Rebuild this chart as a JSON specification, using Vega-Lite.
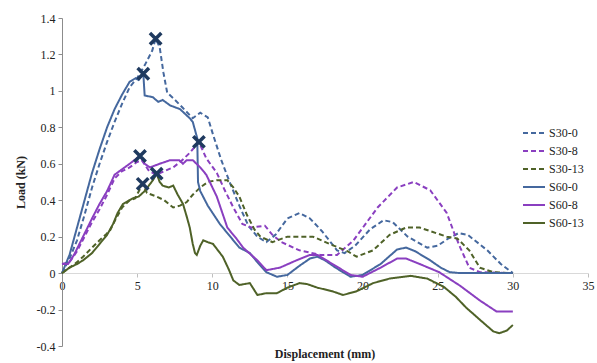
{
"$schema": "https://vega.github.io/schema/vega-lite/v6.json",
"width": 526, "height": 328,
"autosize": {"type": "none"},
"padding": {"left": 62, "top": 18, "right": 9, "bottom": 17},
"background": "white",
"config": {"font": "Liberation Serif", "view": {"stroke": null},
  "axis": {"labelFont": "Liberation Serif", "titleFont": "Liberation Serif", "labelFontSize": 12, "labelColor": "#222222", "grid": false, "labelOverlap": false},
  "axisY": {"labelOverlap": false, "tickCount": 10},
  "legend": {"labelFont": "Liberation Serif", "labelFontSize": 12}},
"title": {"text": "Displacement (mm)", "orient": "bottom", "anchor": "middle", "fontSize": 12, "fontWeight": "bold", "font": "Liberation Serif", "offset": -3, "color": "#222222"},
"datasets": {
"curves": [
{"s":"S30-0","x":0,"y":0},{"s":"S30-0","x":0.5,"y":0.08},{"s":"S30-0","x":1,"y":0.18},{"s":"S30-0","x":1.5,"y":0.32},{"s":"S30-0","x":2,"y":0.47},{"s":"S30-0","x":2.5,"y":0.6},{"s":"S30-0","x":3,"y":0.72},{"s":"S30-0","x":3.5,"y":0.83},{"s":"S30-0","x":4,"y":0.93},{"s":"S30-0","x":4.5,"y":1.02},{"s":"S30-0","x":5,"y":1.07},{"s":"S30-0","x":5.5,"y":1.14},{"s":"S30-0","x":6,"y":1.22},{"s":"S30-0","x":6.23,"y":1.286},{"s":"S30-0","x":6.5,"y":1.24},{"s":"S30-0","x":6.75,"y":1.1},{"s":"S30-0","x":7,"y":0.99},{"s":"S30-0","x":7.4,"y":0.96},{"s":"S30-0","x":8,"y":0.91},{"s":"S30-0","x":8.7,"y":0.85},{"s":"S30-0","x":9.2,"y":0.88},{"s":"S30-0","x":9.7,"y":0.855},{"s":"S30-0","x":10.05,"y":0.76},{"s":"S30-0","x":10.6,"y":0.62},{"s":"S30-0","x":11.2,"y":0.49},{"s":"S30-0","x":11.8,"y":0.37},{"s":"S30-0","x":12.4,"y":0.26},{"s":"S30-0","x":13,"y":0.2},{"s":"S30-0","x":13.6,"y":0.17},{"s":"S30-0","x":14.2,"y":0.21},{"s":"S30-0","x":15,"y":0.3},{"s":"S30-0","x":15.8,"y":0.33},{"s":"S30-0","x":16.5,"y":0.3},{"s":"S30-0","x":17.3,"y":0.23},{"s":"S30-0","x":18.3,"y":0.125},{"s":"S30-0","x":18.8,"y":0.11},{"s":"S30-0","x":19.5,"y":0.15},{"s":"S30-0","x":20.5,"y":0.24},{"s":"S30-0","x":21.4,"y":0.29},{"s":"S30-0","x":22,"y":0.28},{"s":"S30-0","x":23,"y":0.2},{"s":"S30-0","x":24.3,"y":0.14},{"s":"S30-0","x":25,"y":0.15},{"s":"S30-0","x":25.7,"y":0.19},{"s":"S30-0","x":26.4,"y":0.22},{"s":"S30-0","x":27,"y":0.21},{"s":"S30-0","x":28.3,"y":0.125},{"s":"S30-0","x":29.2,"y":0.05},{"s":"S30-0","x":30,"y":0},
{"s":"S30-8","x":0,"y":0.05},{"s":"S30-8","x":0.5,"y":0.06},{"s":"S30-8","x":1,"y":0.12},{"s":"S30-8","x":1.5,"y":0.2},{"s":"S30-8","x":2,"y":0.28},{"s":"S30-8","x":2.5,"y":0.35},{"s":"S30-8","x":3,"y":0.43},{"s":"S30-8","x":3.5,"y":0.52},{"s":"S30-8","x":4,"y":0.56},{"s":"S30-8","x":4.5,"y":0.58},{"s":"S30-8","x":5,"y":0.61},{"s":"S30-8","x":5.3,"y":0.62},{"s":"S30-8","x":5.8,"y":0.56},{"s":"S30-8","x":6.3,"y":0.54},{"s":"S30-8","x":6.8,"y":0.56},{"s":"S30-8","x":7.4,"y":0.58},{"s":"S30-8","x":8,"y":0.62},{"s":"S30-8","x":8.5,"y":0.66},{"s":"S30-8","x":9.11,"y":0.72},{"s":"S30-8","x":9.6,"y":0.63},{"s":"S30-8","x":10.3,"y":0.55},{"s":"S30-8","x":10.8,"y":0.46},{"s":"S30-8","x":11.4,"y":0.36},{"s":"S30-8","x":12,"y":0.27},{"s":"S30-8","x":12.6,"y":0.25},{"s":"S30-8","x":13.5,"y":0.26},{"s":"S30-8","x":14,"y":0.21},{"s":"S30-8","x":14.6,"y":0.17},{"s":"S30-8","x":15.8,"y":0.125},{"s":"S30-8","x":17.2,"y":0.1},{"s":"S30-8","x":18.3,"y":0.1},{"s":"S30-8","x":19.4,"y":0.18},{"s":"S30-8","x":20.2,"y":0.27},{"s":"S30-8","x":21,"y":0.36},{"s":"S30-8","x":22.3,"y":0.47},{"s":"S30-8","x":23.4,"y":0.5},{"s":"S30-8","x":24.5,"y":0.455},{"s":"S30-8","x":25.6,"y":0.33},{"s":"S30-8","x":26.1,"y":0.22},{"s":"S30-8","x":26.5,"y":0.14},{"s":"S30-8","x":27.1,"y":0.03},{"s":"S30-8","x":27.8,"y":0.005},{"s":"S30-8","x":30,"y":0},
{"s":"S30-13","x":0,"y":0},{"s":"S30-13","x":0.5,"y":0.03},{"s":"S30-13","x":1,"y":0.06},{"s":"S30-13","x":1.4,"y":0.09},{"s":"S30-13","x":2,"y":0.14},{"s":"S30-13","x":2.5,"y":0.18},{"s":"S30-13","x":2.9,"y":0.21},{"s":"S30-13","x":3.2,"y":0.235},{"s":"S30-13","x":3.6,"y":0.3},{"s":"S30-13","x":4,"y":0.36},{"s":"S30-13","x":4.5,"y":0.4},{"s":"S30-13","x":4.86,"y":0.41},{"s":"S30-13","x":5.37,"y":0.49},{"s":"S30-13","x":5.65,"y":0.44},{"s":"S30-13","x":6.3,"y":0.42},{"s":"S30-13","x":6.8,"y":0.4},{"s":"S30-13","x":7.4,"y":0.36},{"s":"S30-13","x":7.85,"y":0.37},{"s":"S30-13","x":8.3,"y":0.39},{"s":"S30-13","x":8.7,"y":0.43},{"s":"S30-13","x":9.2,"y":0.47},{"s":"S30-13","x":9.7,"y":0.5},{"s":"S30-13","x":10.3,"y":0.51},{"s":"S30-13","x":11,"y":0.51},{"s":"S30-13","x":11.4,"y":0.47},{"s":"S30-13","x":11.8,"y":0.42},{"s":"S30-13","x":12.3,"y":0.32},{"s":"S30-13","x":12.8,"y":0.24},{"s":"S30-13","x":13.2,"y":0.2},{"s":"S30-13","x":14,"y":0.17},{"s":"S30-13","x":15,"y":0.2},{"s":"S30-13","x":16,"y":0.2},{"s":"S30-13","x":16.7,"y":0.2},{"s":"S30-13","x":17.8,"y":0.16},{"s":"S30-13","x":19,"y":0.12},{"s":"S30-13","x":19.6,"y":0.09},{"s":"S30-13","x":20.7,"y":0.125},{"s":"S30-13","x":21.8,"y":0.21},{"s":"S30-13","x":22.9,"y":0.25},{"s":"S30-13","x":23.8,"y":0.25},{"s":"S30-13","x":25.6,"y":0.2},{"s":"S30-13","x":26.3,"y":0.19},{"s":"S30-13","x":27.1,"y":0.125},{"s":"S30-13","x":27.8,"y":0.03},{"s":"S30-13","x":28.7,"y":0.005},{"s":"S30-13","x":30,"y":0},
{"s":"S60-0","x":0,"y":0},{"s":"S60-0","x":0.5,"y":0.1},{"s":"S60-0","x":1,"y":0.25},{"s":"S60-0","x":1.5,"y":0.4},{"s":"S60-0","x":2,"y":0.55},{"s":"S60-0","x":2.5,"y":0.68},{"s":"S60-0","x":3,"y":0.8},{"s":"S60-0","x":3.5,"y":0.9},{"s":"S60-0","x":4,"y":0.98},{"s":"S60-0","x":4.5,"y":1.05},{"s":"S60-0","x":4.9,"y":1.07},{"s":"S60-0","x":5.1,"y":1.06},{"s":"S60-0","x":5.41,"y":1.094},{"s":"S60-0","x":5.5,"y":0.975},{"s":"S60-0","x":6.05,"y":0.965},{"s":"S60-0","x":6.4,"y":0.94},{"s":"S60-0","x":6.7,"y":0.95},{"s":"S60-0","x":7.2,"y":0.92},{"s":"S60-0","x":7.85,"y":0.9},{"s":"S60-0","x":8.5,"y":0.85},{"s":"S60-0","x":8.7,"y":0.83},{"s":"S60-0","x":9,"y":0.74},{"s":"S60-0","x":9.05,"y":0.5},{"s":"S60-0","x":9.2,"y":0.45},{"s":"S60-0","x":9.7,"y":0.37},{"s":"S60-0","x":10.5,"y":0.27},{"s":"S60-0","x":11.2,"y":0.2},{"s":"S60-0","x":11.8,"y":0.14},{"s":"S60-0","x":12.5,"y":0.11},{"s":"S60-0","x":13,"y":0.06},{"s":"S60-0","x":13.6,"y":0.005},{"s":"S60-0","x":14.3,"y":-0.02},{"s":"S60-0","x":15,"y":-0.01},{"s":"S60-0","x":15.8,"y":0.04},{"s":"S60-0","x":16.5,"y":0.08},{"s":"S60-0","x":17,"y":0.09},{"s":"S60-0","x":17.5,"y":0.07},{"s":"S60-0","x":18.2,"y":0.03},{"s":"S60-0","x":19.2,"y":-0.02},{"s":"S60-0","x":20,"y":-0.01},{"s":"S60-0","x":21.2,"y":0.05},{"s":"S60-0","x":22.3,"y":0.13},{"s":"S60-0","x":22.9,"y":0.14},{"s":"S60-0","x":23.5,"y":0.12},{"s":"S60-0","x":24.5,"y":0.07},{"s":"S60-0","x":25.2,"y":0.03},{"s":"S60-0","x":25.8,"y":0.005},{"s":"S60-0","x":26.5,"y":0},{"s":"S60-0","x":30,"y":0},
{"s":"S60-8","x":0,"y":0.05},{"s":"S60-8","x":0.4,"y":0.05},{"s":"S60-8","x":0.8,"y":0.1},{"s":"S60-8","x":1.4,"y":0.2},{"s":"S60-8","x":2,"y":0.3},{"s":"S60-8","x":2.5,"y":0.38},{"s":"S60-8","x":3,"y":0.45},{"s":"S60-8","x":3.5,"y":0.54},{"s":"S60-8","x":4,"y":0.57},{"s":"S60-8","x":4.5,"y":0.6},{"s":"S60-8","x":5.19,"y":0.643},{"s":"S60-8","x":5.5,"y":0.6},{"s":"S60-8","x":5.85,"y":0.58},{"s":"S60-8","x":6.5,"y":0.6},{"s":"S60-8","x":7.2,"y":0.62},{"s":"S60-8","x":7.8,"y":0.62},{"s":"S60-8","x":8.05,"y":0.6},{"s":"S60-8","x":8.3,"y":0.62},{"s":"S60-8","x":8.7,"y":0.62},{"s":"S60-8","x":9.2,"y":0.58},{"s":"S60-8","x":9.6,"y":0.54},{"s":"S60-8","x":10.3,"y":0.42},{"s":"S60-8","x":11,"y":0.25},{"s":"S60-8","x":11.6,"y":0.19},{"s":"S60-8","x":12.05,"y":0.14},{"s":"S60-8","x":13,"y":0.07},{"s":"S60-8","x":13.6,"y":0.016},{"s":"S60-8","x":14.5,"y":0.03},{"s":"S60-8","x":15.6,"y":0.07},{"s":"S60-8","x":16.5,"y":0.1},{"s":"S60-8","x":17,"y":0.1},{"s":"S60-8","x":18,"y":0.05},{"s":"S60-8","x":19.2,"y":-0.01},{"s":"S60-8","x":20,"y":-0.02},{"s":"S60-8","x":21.2,"y":0.03},{"s":"S60-8","x":22.3,"y":0.08},{"s":"S60-8","x":22.9,"y":0.08},{"s":"S60-8","x":23.8,"y":0.05},{"s":"S60-8","x":25.1,"y":0.005},{"s":"S60-8","x":26.5,"y":-0.07},{"s":"S60-8","x":27.8,"y":-0.15},{"s":"S60-8","x":28.9,"y":-0.21},{"s":"S60-8","x":30,"y":-0.21},
{"s":"S60-13","x":0,"y":0},{"s":"S60-13","x":0.5,"y":0.03},{"s":"S60-13","x":1,"y":0.05},{"s":"S60-13","x":1.4,"y":0.07},{"s":"S60-13","x":2,"y":0.11},{"s":"S60-13","x":2.5,"y":0.16},{"s":"S60-13","x":3,"y":0.21},{"s":"S60-13","x":3.4,"y":0.27},{"s":"S60-13","x":3.7,"y":0.33},{"s":"S60-13","x":4.06,"y":0.38},{"s":"S60-13","x":4.7,"y":0.41},{"s":"S60-13","x":5.1,"y":0.42},{"s":"S60-13","x":5.5,"y":0.45},{"s":"S60-13","x":6.05,"y":0.51},{"s":"S60-13","x":6.3,"y":0.546},{"s":"S60-13","x":6.5,"y":0.5},{"s":"S60-13","x":6.7,"y":0.48},{"s":"S60-13","x":7.1,"y":0.47},{"s":"S60-13","x":7.4,"y":0.48},{"s":"S60-13","x":7.7,"y":0.43},{"s":"S60-13","x":8.05,"y":0.38},{"s":"S60-13","x":8.3,"y":0.31},{"s":"S60-13","x":8.5,"y":0.25},{"s":"S60-13","x":8.7,"y":0.16},{"s":"S60-13","x":8.85,"y":0.11},{"s":"S60-13","x":8.97,"y":0.1},{"s":"S60-13","x":9.2,"y":0.15},{"s":"S60-13","x":9.4,"y":0.18},{"s":"S60-13","x":9.7,"y":0.17},{"s":"S60-13","x":10.05,"y":0.16},{"s":"S60-13","x":10.7,"y":0.09},{"s":"S60-13","x":11.1,"y":0.02},{"s":"S60-13","x":11.4,"y":-0.04},{"s":"S60-13","x":11.8,"y":-0.065},{"s":"S60-13","x":12.5,"y":-0.055},{"s":"S60-13","x":13,"y":-0.12},{"s":"S60-13","x":13.6,"y":-0.11},{"s":"S60-13","x":14.3,"y":-0.11},{"s":"S60-13","x":15,"y":-0.08},{"s":"S60-13","x":15.8,"y":-0.055},{"s":"S60-13","x":16.3,"y":-0.06},{"s":"S60-13","x":17,"y":-0.08},{"s":"S60-13","x":18,"y":-0.1},{"s":"S60-13","x":18.7,"y":-0.12},{"s":"S60-13","x":19.6,"y":-0.1},{"s":"S60-13","x":20.7,"y":-0.055},{"s":"S60-13","x":21.8,"y":-0.03},{"s":"S60-13","x":23.2,"y":-0.015},{"s":"S60-13","x":24.3,"y":-0.03},{"s":"S60-13","x":25.4,"y":-0.075},{"s":"S60-13","x":26.2,"y":-0.13},{"s":"S60-13","x":26.9,"y":-0.19},{"s":"S60-13","x":28,"y":-0.27},{"s":"S60-13","x":28.7,"y":-0.32},{"s":"S60-13","x":29.1,"y":-0.33},{"s":"S60-13","x":29.6,"y":-0.315},{"s":"S60-13","x":30,"y":-0.285}
],
"peaks": [
{"x":6.23,"y":1.286},{"x":5.41,"y":1.094},{"x":9.11,"y":0.72},{"x":5.19,"y":0.643},{"x":6.3,"y":0.546},{"x":5.37,"y":0.49}
]
},
"encoding": {
  "x": {"field": "x", "type": "quantitative", "scale": {"domain": [0, 35], "nice": false},
    "axis": {"title": null, "values": [0,5,10,15,20,25,30,35], "offset": -73, "domainColor": "#d9d9d9", "tickColor": "#bfbfbf", "tickSize": 4, "labelPadding": 3, "labelFlush": false, "labelOverlap": false}},
  "y": {"field": "y", "type": "quantitative", "scale": {"domain": [-0.4, 1.4], "nice": false, "zero": false},
    "axis": {"title": "Load (kN)", "titleFontWeight": "bold", "titleFontSize": 12, "titleColor": "#222222", "titlePadding": 9, "values": [-0.4,-0.2,0,0.2,0.4,0.6,0.8,1,1.2,1.4], "labelExpr": "replace(format(datum.value,'~g'),'\u2212','-')", "labelOverlap": false, "labelFlush": false, "labelBound": false, "labelFontSize": 12, "domainColor": "#8c8c8c", "tickColor": "#8c8c8c", "tickSize": 4, "labelPadding": 3}}
},
"layer": [
{
"data": {"name": "curves"},
"mark": {"type": "line", "strokeWidth": 2},
"encoding": {
  "color": {"field": "s", "type": "nominal",
    "scale": {"domain": ["S30-0","S30-8","S30-13","S60-0","S60-8","S60-13"], "range": ["#45689e","#8a3fc0","#4f6228","#45689e","#8a3fc0","#4f6228"]},
    "legend": {"title": null, "orient": "none", "legendX": 460, "legendY": 103, "symbolType": "stroke", "symbolSize": 484, "symbolStrokeWidth": 2, "labelFont": "Liberation Serif", "labelFontSize": 12, "labelColor": "#222222", "rowPadding": -2, "padding": 0, "labelOffset": 3}},
  "strokeDash": {"field": "s", "type": "nominal",
    "scale": {"domain": ["S30-0","S30-8","S30-13","S60-0","S60-8","S60-13"], "range": [[5,3],[5,3],[5,3],[1,0],[1,0],[1,0]]},
    "legend": {"title": null, "orient": "none", "legendX": 460, "legendY": 103, "symbolType": "stroke", "symbolSize": 484, "symbolStrokeWidth": 2, "labelFont": "Liberation Serif", "labelFontSize": 12, "labelColor": "#222222", "rowPadding": -2, "padding": 0, "labelOffset": 3}}
}
},
{
"data": {"name": "peaks"},
"mark": {"type": "point", "shape": "M-1,-1L1,1M-1,1L1,-1", "filled": false, "stroke": "#1f3a5f", "strokeWidth": 3.5, "size": 130, "opacity": 1}
}
]
}
